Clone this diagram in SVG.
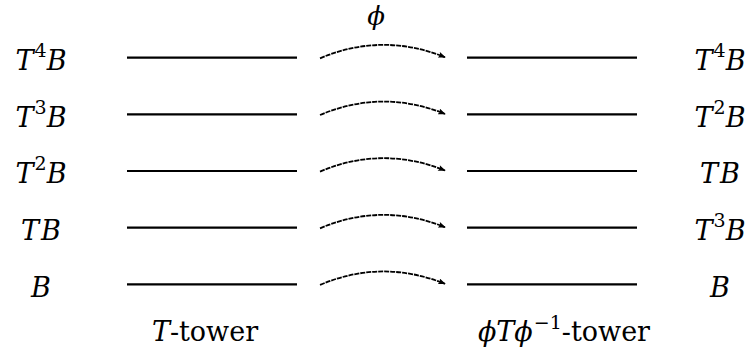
<svg xmlns="http://www.w3.org/2000/svg" width="755" height="354" viewBox="0 0 755 354">
<defs>
<style>
.t{font-family:'DejaVu Serif','Liberation Serif','Times New Roman',serif;font-size:27px;fill:#000}
.lab{text-anchor:middle}
.i{font-style:italic}
.sup{font-size:19px}
.bar{stroke:#000;stroke-width:2.2;fill:none}
.arr{stroke:#000;stroke-width:1.8;fill:none;stroke-dasharray:5 1;marker-end:url(#ah)}
</style>
<marker id="ah" viewBox="0 0 10 8" refX="9" refY="4" markerWidth="8" markerHeight="6" markerUnits="userSpaceOnUse" orient="auto">
<path d="M0,0 L10,4 L0,8 L2,4 Z" fill="#000"/>
</marker>
</defs>
<rect width="755" height="354" fill="#fff"/>

<g id="left-tower">
<g id="l-T4B"><line class="bar" x1="127" y1="57.7" x2="297" y2="57.7"/><text class="t lab" x="41" y="70"><tspan class="i">T</tspan><tspan class="sup" dx="1" dy="-13">4</tspan><tspan class="i" dy="13">B</tspan></text></g>
<g id="l-T3B"><line class="bar" x1="127" y1="114.4" x2="297" y2="114.4"/><text class="t lab" x="41" y="126.7"><tspan class="i">T</tspan><tspan class="sup" dx="1" dy="-13">3</tspan><tspan class="i" dy="13">B</tspan></text></g>
<g id="l-T2B"><line class="bar" x1="127" y1="171" x2="297" y2="171"/><text class="t lab" x="41" y="183.3"><tspan class="i">T</tspan><tspan class="sup" dx="1" dy="-13">2</tspan><tspan class="i" dy="13">B</tspan></text></g>
<g id="l-TB"><line class="bar" x1="127" y1="227.7" x2="297" y2="227.7"/><text class="t lab i" x="41" y="240">T<tspan dx="2">B</tspan></text></g>
<g id="l-B"><line class="bar" x1="127" y1="284.3" x2="297" y2="284.3"/><text class="t lab i" x="41" y="296.6">B</text></g>
</g>

<g id="right-tower">
<g id="r-T4B"><line class="bar" x1="467" y1="57.7" x2="637" y2="57.7"/><text class="t lab" x="720" y="70"><tspan class="i">T</tspan><tspan class="sup" dx="1" dy="-13">4</tspan><tspan class="i" dy="13">B</tspan></text></g>
<g id="r-T2B"><line class="bar" x1="467" y1="114.4" x2="637" y2="114.4"/><text class="t lab" x="720" y="126.7"><tspan class="i">T</tspan><tspan class="sup" dx="1" dy="-13">2</tspan><tspan class="i" dy="13">B</tspan></text></g>
<g id="r-TB"><line class="bar" x1="467" y1="171" x2="637" y2="171"/><text class="t lab i" x="720" y="183.3">T<tspan dx="2">B</tspan></text></g>
<g id="r-T3B"><line class="bar" x1="467" y1="227.7" x2="637" y2="227.7"/><text class="t lab" x="720" y="240"><tspan class="i">T</tspan><tspan class="sup" dx="1" dy="-13">3</tspan><tspan class="i" dy="13">B</tspan></text></g>
<g id="r-B"><line class="bar" x1="467" y1="284.3" x2="637" y2="284.3"/><text class="t lab i" x="720" y="296.6">B</text></g>
</g>

<g id="connectors">
<path class="arr" d="M320,58.3 Q382,32 445,57.2"/>
<path class="arr" d="M320,115 Q382,88.7 445,113.9"/>
<path class="arr" d="M320,171.6 Q382,145.3 445,170.5"/>
<path class="arr" d="M320,228.3 Q382,202 445,227.2"/>
<path class="arr" d="M320,284.9 Q382,258.6 445,283.8"/>
</g>

<g id="phi-label"><text class="t lab i" x="376" y="25" style="font-size:26px">ϕ</text></g>
<g id="left-caption"><text class="t lab" x="205" y="341"><tspan class="i">T</tspan>-tower</text></g>
<g id="right-caption"><text class="t lab" x="564" y="341"><tspan class="i">ϕTϕ</tspan><tspan class="sup" dx="1" dy="-12">−1</tspan><tspan dy="12">-tower</tspan></text></g>
</svg>
